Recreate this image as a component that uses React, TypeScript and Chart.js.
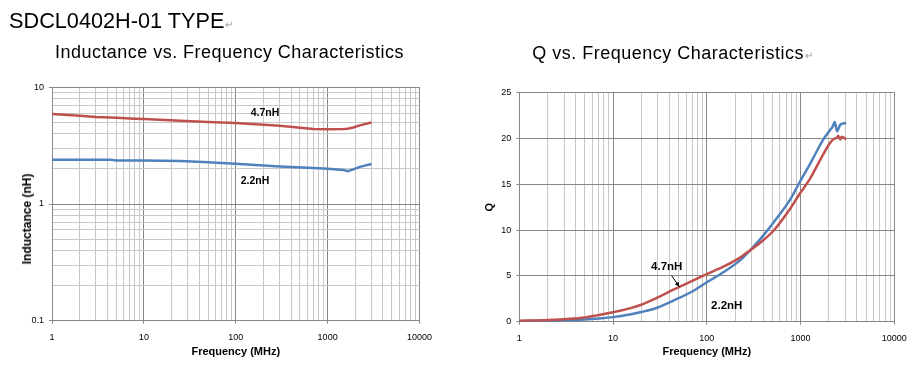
import React, { useEffect, useRef } from 'react';
import { Chart, registerables } from 'chart.js';

Chart.register(...registerables);

// ---------- data ----------
// Inductance vs frequency (MHz -> nH)
const L_FREQ = [1, 1.5, 2, 3, 4.3, 5, 8, 10, 25, 50, 100, 300, 700, 1000, 1480, 1650, 1900, 2240, 3000];
const L_47NH = [5.9, 5.8, 5.7, 5.57, 5.5, 5.48, 5.38, 5.35, 5.17, 5.05, 4.94, 4.69, 4.4, 4.36, 4.39, 4.42, 4.53, 4.72, 5.0];
const L_22NH = [2.4, 2.4, 2.4, 2.4, 2.4, 2.36, 2.36, 2.36, 2.34, 2.28, 2.21, 2.1, 2.03, 2.0, 1.96, 1.91, 1.98, 2.08, 2.2];

// Q vs frequency (MHz -> Q)
const Q_FREQ = [1, 2, 3, 5, 7, 10, 15, 20, 30, 44, 70, 100, 150, 226, 290, 400, 512, 771, 1000, 1260, 1750, 2060, 2200, 2320, 2450, 2520, 2650, 2750, 3070];
const Q_47NH = [0.1, 0.18, 0.28, 0.45, 0.72, 1.03, 1.45, 1.85, 2.65, 3.5, 4.45, 5.2, 6.0, 7.0, 7.8, 8.9, 9.9, 12.3, 14.1, 15.6, 18.3, 19.5, 19.85, 20.0, 20.1, 20.3, 19.9, 20.2, 19.9];
const Q_22NH = [0.05, 0.1, 0.15, 0.25, 0.35, 0.5, 0.78, 1.05, 1.55, 2.3, 3.3, 4.3, 5.4, 6.7, 7.8, 9.4, 10.8, 13.3, 15.4, 17.2, 19.9, 20.9, 21.3, 21.8, 20.8, 21.0, 21.5, 21.6, 21.7];

// ticks
const DECADE_STEPS = [1, 2, 3, 4, 5, 6, 7, 8, 9];
const FREQ_DECADES = [1, 10, 100, 1000];
const FREQ_MAX = 10000;
const IND_DECADES = [0.1, 1];
const IND_MAX = 10;
const Q_MIN = 0;
const Q_MAX = 25;
const Q_STEP = 5;

// series names / annotations (data coordinates)
const SERIES_NAMES = ['4.7nH', '2.2nH'];
const L_LABEL_AT = [
  { f: 208, v: 6.06 },
  { f: 162, v: 1.56 },
];
const Q_LABEL_AT = [
  { f: 37.4, v: 6.0 },
  { f: 163, v: 1.75 },
];
const Q_ARROW = { from: { f: 42.2, v: 5.02 }, to: { f: 50.9, v: 3.82 } };

// ---------- styling ----------
const FONT = 'Arial, "Liberation Sans", sans-serif';
const RED = '#C0504D';
const BLUE = '#4F81BD';
const MAJOR = '#878787';
const MINOR = '#c8c8c8';

const buildLogTicks = (decades: number[], max: number) => {
  const out: number[] = [];
  decades.forEach((d) => DECADE_STEPS.forEach((s) => out.push(+(d * s).toPrecision(6))));
  out.push(max);
  return out;
};
const FREQ_TICKS = buildLogTicks(FREQ_DECADES, FREQ_MAX);
const IND_TICKS = buildLogTicks(IND_DECADES, IND_MAX);

const isPow10 = (v: number) => Math.abs(Math.log10(v) - Math.round(Math.log10(v))) < 1e-6;
const gridColor = (c: any) => (c.tick && isPow10(c.tick.value) ? MAJOR : MINOR);
const tickMarkColor = (c: any) => (c.tick && isPow10(c.tick.value) ? MAJOR : 'rgba(0,0,0,0)');

const annotPlugin = (labels: { f: number; v: number }[], font: string, arrow?: any) => ({
  id: 'annot',
  afterDatasetsDraw(chart: any) {
    const { ctx } = chart;
    const xs = chart.scales.x;
    const ys = chart.scales.y;
    ctx.save();
    ctx.fillStyle = '#000';
    ctx.font = font;
    ctx.textAlign = 'center';
    ctx.textBaseline = 'middle';
    labels.forEach((l, i) => ctx.fillText(SERIES_NAMES[i], xs.getPixelForValue(l.f), ys.getPixelForValue(l.v)));
    if (arrow) {
      const x1 = xs.getPixelForValue(arrow.from.f);
      const y1 = ys.getPixelForValue(arrow.from.v);
      const x2 = xs.getPixelForValue(arrow.to.f);
      const y2 = ys.getPixelForValue(arrow.to.v);
      ctx.strokeStyle = '#000';
      ctx.lineWidth = 1;
      ctx.beginPath();
      ctx.moveTo(x1, y1);
      ctx.lineTo(x2, y2);
      ctx.stroke();
      const ang = Math.atan2(y2 - y1, x2 - x1);
      const len = 5;
      ctx.beginPath();
      ctx.moveTo(x2, y2);
      ctx.lineTo(x2 - len * Math.cos(ang - 0.45), y2 - len * Math.sin(ang - 0.45));
      ctx.lineTo(x2 - len * Math.cos(ang + 0.45), y2 - len * Math.sin(ang + 0.45));
      ctx.closePath();
      ctx.fill();
    }
    ctx.restore();
  },
});

const tickFont = { family: FONT, size: 9 };
const axisTitleFont = { family: FONT, size: 11, weight: 'bold' as const };

const freqAxis = (height: number) => ({
  type: 'logarithmic' as const,
  min: 1,
  max: FREQ_MAX,
  afterBuildTicks: (s: any) => {
    s.ticks = FREQ_TICKS.map((v) => ({ value: v }));
  },
  afterFit: (s: any) => {
    s.height = height;
  },
  ticks: {
    autoSkip: false,
    maxRotation: 0,
    minRotation: 0,
    padding: 8,
    color: '#000',
    font: tickFont,
    callback: (v: any) => (isPow10(Number(v)) ? String(v) : ''),
  },
  grid: { color: gridColor, tickColor: tickMarkColor, tickLength: 3, lineWidth: 1 },
  border: { color: MAJOR },
  title: {
    display: true,
    text: 'Frequency (MHz)',
    color: '#000',
    font: axisTitleFont,
    padding: { top: 0, bottom: 18 },
  },
});

const line = (label: string, xs: number[], ys: number[], color: string, mono: boolean) => ({
  label,
  data: xs.map((x, i) => ({ x, y: ys[i] })),
  borderColor: color,
  backgroundColor: color,
  borderWidth: 2.5,
  pointRadius: 0,
  fill: false,
  tension: mono ? 0.4 : 0,
  cubicInterpolationMode: mono ? ('monotone' as const) : ('default' as const),
});

function InductanceChart() {
  const ref = useRef<HTMLCanvasElement>(null);
  useEffect(() => {
    if (!ref.current) return;
    const chart = new Chart(ref.current, {
      type: 'line',
      data: {
        datasets: [
          line(SERIES_NAMES[0], L_FREQ, L_47NH, RED, false),
          line(SERIES_NAMES[1], L_FREQ, L_22NH, BLUE, false),
        ],
      },
      options: {
        responsive: false,
        animation: false,
        layout: { padding: { top: 87.3, right: 40.5, left: 0, bottom: 0 } },
        plugins: { legend: { display: false }, tooltip: { enabled: false } },
        scales: {
          x: freqAxis(56.3) as any,
          y: {
            type: 'logarithmic',
            min: 0.1,
            max: IND_MAX,
            afterBuildTicks: (s: any) => {
              s.ticks = IND_TICKS.map((v) => ({ value: v }));
            },
            afterFit: (s: any) => {
              s.width = 52;
            },
            ticks: {
              autoSkip: false,
              padding: 5,
              color: '#000',
              font: tickFont,
              callback: (v: any) => (isPow10(Number(v)) ? String(v) : ''),
            },
            grid: { color: gridColor, tickColor: tickMarkColor, tickLength: 3, lineWidth: 1 },
            border: { color: MAJOR },
            title: { display: false },
          } as any,
        },
      },
      plugins: [annotPlugin(L_LABEL_AT, `bold 10.5px ${FONT}`)],
    });
    return () => chart.destroy();
  }, []);
  return <canvas ref={ref} width={460} height={377} style={{ position: 'absolute', left: 0, top: 0 }} />;
}

function QChart() {
  const ref = useRef<HTMLCanvasElement>(null);
  useEffect(() => {
    if (!ref.current) return;
    const chart = new Chart(ref.current, {
      type: 'line',
      data: {
        datasets: [
          line(SERIES_NAMES[0], Q_FREQ, Q_47NH, RED, true),
          line(SERIES_NAMES[1], Q_FREQ, Q_22NH, BLUE, true),
        ],
      },
      options: {
        responsive: false,
        animation: false,
        layout: { padding: { top: 92.7, right: 20.7, left: 0, bottom: 0 } },
        plugins: { legend: { display: false }, tooltip: { enabled: false } },
        scales: {
          x: freqAxis(55.3) as any,
          y: {
            type: 'linear',
            min: Q_MIN,
            max: Q_MAX,
            afterFit: (s: any) => {
              s.width = 59.3;
            },
            ticks: { stepSize: Q_STEP, padding: 5, color: '#000', font: tickFont },
            grid: { color: MAJOR, tickColor: MAJOR, tickLength: 3, lineWidth: 1 },
            border: { color: MAJOR },
            title: {
              display: true,
              text: 'Q',
              color: '#000',
              font: axisTitleFont,
              padding: { top: 23.4, bottom: 0 },
            },
          } as any,
        },
      },
      plugins: [annotPlugin(Q_LABEL_AT, `bold 11.5px ${FONT}`, Q_ARROW)],
    });
    return () => chart.destroy();
  }, []);
  return <canvas ref={ref} width={455} height={377} style={{ position: 'absolute', left: 460, top: 0 }} />;
}

const ret = { fontSize: 10, color: '#9a9a9a', fontWeight: 'normal' as const, marginLeft: 1, letterSpacing: 0 };

export default function App() {
  return (
    <div
      style={{
        position: 'absolute',
        left: 0,
        top: 0,
        width: 915,
        height: 377,
        background: '#fff',
        fontFamily: FONT,
        color: '#000',
        overflow: 'hidden',
      }}
    >
      <InductanceChart />
      <QChart />
      <div style={{ position: 'absolute', left: 9, top: 9.7, fontSize: 21.7, lineHeight: '22px', whiteSpace: 'nowrap' }}>
        SDCL0402H-01 TYPE<span style={ret}>↵</span>
      </div>
      <div
        style={{
          position: 'absolute',
          left: 55,
          top: 43.1,
          fontSize: 18,
          lineHeight: '18px',
          letterSpacing: 0.47,
          whiteSpace: 'nowrap',
        }}
      >
        Inductance vs. Frequency Characteristics
      </div>
      <div
        style={{
          position: 'absolute',
          left: 532.3,
          top: 43.8,
          fontSize: 18,
          lineHeight: '18px',
          letterSpacing: 0.5,
          whiteSpace: 'nowrap',
        }}
      >
        Q vs. Frequency Characteristics<span style={ret}>↵</span>
      </div>
      <div
        style={{
          position: 'absolute',
          left: 26.7,
          top: 219,
          transform: 'translate(-50%, -50%) rotate(-90deg)',
          fontSize: 12,
          lineHeight: '12px',
          fontWeight: 'bold',
          whiteSpace: 'nowrap',
        }}
      >
        Inductance (nH)
      </div>
    </div>
  );
}
